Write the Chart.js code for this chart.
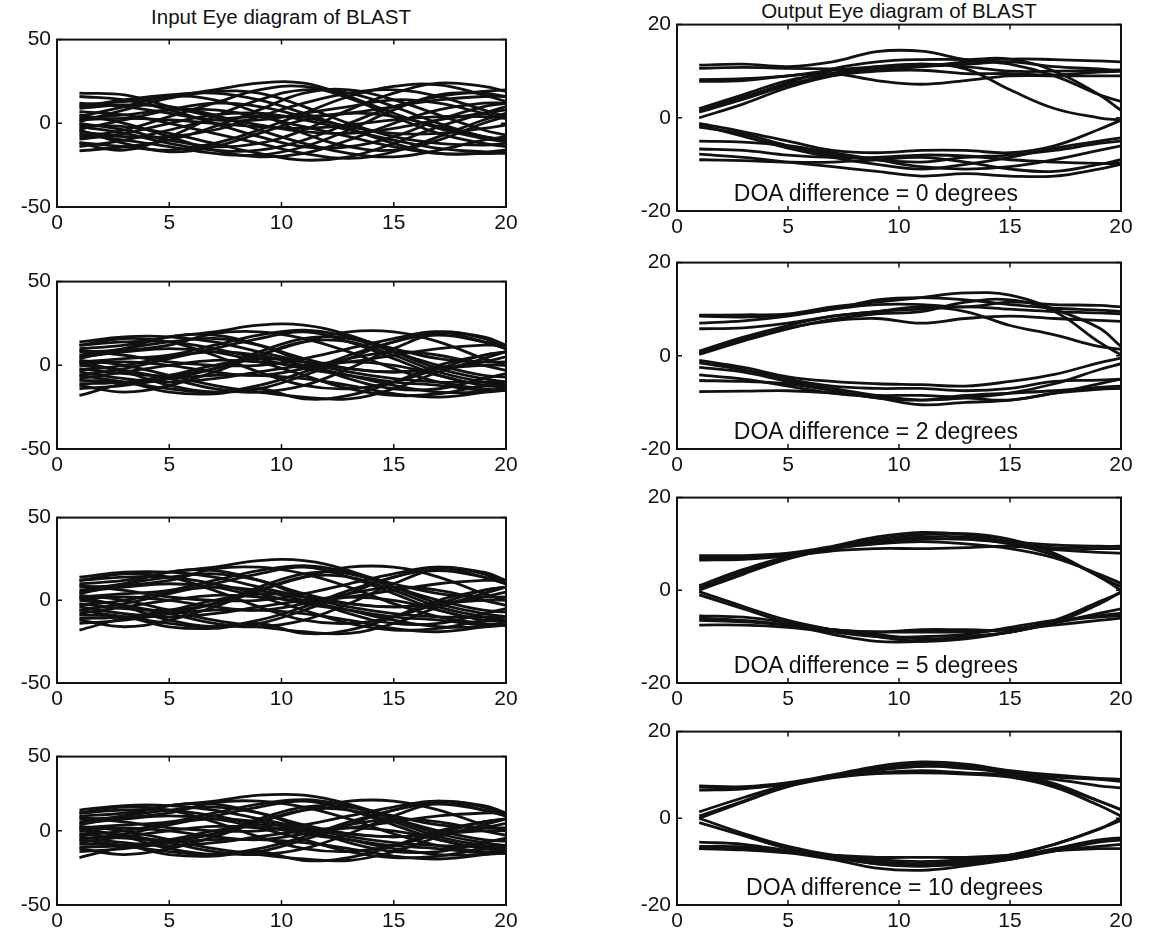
<!DOCTYPE html>
<html>
<head>
<meta charset="utf-8">
<script src="https://cdn.jsdelivr.net/npm/chart.js@4.4.1/dist/chart.umd.min.js"></script>
<style>
  body { margin: 0; background: #fff; width: 1150px; height: 932px; position: relative; overflow: hidden;
         font-family: "Liberation Sans", Arial, Helvetica, sans-serif; color: #111; }
  canvas { position: absolute; }
  .ttl { position: absolute; font-size: 20.5px; white-space: nowrap; transform: translateX(-50%); }
  .doa { position: absolute; font-size: 23px; white-space: nowrap; transform: translate(-50%, -50%); }
</style>
</head>
<body>
<div class="ttl" style="left:281px; top:5px;">Input Eye diagram of BLAST</div>
<div class="ttl" style="left:899px; top:-1px;">Output Eye diagram of BLAST</div>
<script>
// sample positions shared by every trace
const samples = [1, 3, 5, 7, 9, 11, 13, 15, 17, 19, 20];
const xTicks = [0, 5, 10, 15, 20];
const inTicks = [-50, 0, 50];
const outTicks = [-20, 0, 20];
const doaDegrees = [0, 2, 5, 10];

// input eye, first row
const inputEyeA = [
  [18, 17, 10, 4, -1, -5, -6, -3, 2, 6, 8],
  [11, 13, 16, 20, 24, 24, 16, 6, -3, -9, -11],
  [10, 14, 17, 18, 14, 6, -3, -12, -18, -18, -17],
  [7, 5, 0, -6, -12, -18, -21, -17, -8, 2, 6],
  [1, 8, 15, 19, 18, 10, 0, -8, -12, -13, -12],
  [0, -4, -10, -14, -12, -4, 8, 18, 24, 22, 19],
  [-3.5, 2, 8, 12, 10, 4, -2, -6, -6, -3, -1],
  [-6.5, -10, -14, -18, -19, -14, -4, 8, 17, 18, 16],
  [-9.5, -6, 0, 5, 6, 2, -4, -10, -15, -17, -16],
  [-11.5, -14, -16, -12, -4, 6, 16, 22, 23, 17, 13],
  [-16.5, -14, -10, -2, 8, 18, 20, 14, 5, -4, -7],
  [2, 3, 2, 0, -2, -3, -1, 2, 4, 4, 3],
  [-1, -2, -6, -12, -18, -22, -20, -12, -2, 6, 10],
  [5, 0, -8, -16, -20, -18, -10, 0, 8, 12, 12],
  [-5, -8, -8, -4, 4, 12, 18, 20, 16, 8, 4],
  [9, 11, 10, 5, -4, -12, -18, -20, -16, -10, -8],
  [-8, -4, 4, 12, 20, 22, 15, 4, -6, -12, -14],
  [3, 5, 8, 8, 4, -2, -8, -14, -18, -18, -18],
  [-2, -6, -12, -16, -16, -10, 0, 10, 16, 19, 20],
  [12, 10, 6, 2, 2, 6, 10, 14, 12, 6, 3],
  [-12, -16, -8, 4, 14, 20, 18, 10, 0, -8, -10],
  [4, 10, 16, 14, 6, -6, -14, -16, -10, 0, 4],
  [-14, -10, -4, 2, 4, 4, 6, 10, 14, 16, 16],
  [16, 14, 8, 0, -8, -14, -14, -8, 2, 10, 12],
  [-4, -12, -17, -14, -6, 2, 6, 4, -2, -8, -10]
];

// input eye, rows two to four
const inputEyeB = [
  [14, 17, 17, 14, 8, 2, -4, -8, -10, -10, -10],
  [10, 12, 17, 20, 24, 24, 18, 8, -2, -8, -10],
  [8, 9, 12, 19, 20, 16, 8, -2, -10, -14, -15],
  [5, 8, 10, 8, 2, -6, -14, -18, -17, -12, -10],
  [2, 4, 6, 12, 18, 21, 17, 10, 4, 2, 2],
  [0, -3, -8, -14, -16, -12, -2, 10, 19, 17, 12],
  [-3, 0, 5, 8, 6, 0, -6, -12, -16, -16, -15],
  [-6, -10, -14, -16, -12, -4, 6, 14, 20, 16, 10],
  [-9, -10, -16, -17, -14, -20, -18, -10, 0, 6, 8],
  [-11, -10, -6, 0, 4, 2, -2, -4, -2, 2, 5],
  [-18, -11, -8, -6, -6, -8, -12, -17, -19, -16, -13],
  [3, 0, -6, -12, -16, -19, -20, -14, -4, 4, 8],
  [-2, -5, -6, -2, 6, 14, 20, 20, 14, 4, 0],
  [6, 10, 14, 16, 12, 4, -2, -4, -2, 0, 0],
  [-8, -4, 0, 3, 2, 0, 2, 6, 10, 12, 12],
  [1, 2, 0, -4, -6, -2, 4, 8, 6, 0, -3],
  [-4, -8, -10, -8, -4, 0, 2, 0, -6, -12, -13],
  [12, 14, 14, 10, 4, -2, -6, -10, -12, -15, -15],
  [-14, -12, -8, -2, 8, 16, 16, 8, 0, -6, -7],
  [9, 6, 2, 0, 0, 4, 10, 16, 20, 14, 10],
  [12, 16, 14, 6, -4, -12, -14, -10, -2, 6, 8],
  [-12, -16, -12, -4, 6, 14, 14, 6, -4, -10, -12],
  [4, 10, 17, 18, 12, 2, -8, -14, -14, -8, -5],
  [-6, -2, 4, 10, 16, 20, 14, 4, -6, -12, -12],
  [2, -4, -12, -16, -14, -6, 4, 14, 18, 14, 10]
];

// output eyes, one per DOA difference
const outputEye0 = [
  [11.3, 11.5, 11, 12, 14.2, 14.3, 12.5, 11.5, 9, 5, 3.5],
  [10.6, 10.8, 10.6, 10.5, 10.3, 11, 12, 12.6, 12.5, 12.2, 12],
  [8.2, 8.4, 9, 10.2, 11, 11.5, 11, 10, 10, 10.2, 10.3],
  [7.8, 8, 9, 9.5, 8, 7.2, 8, 9, 9, 9, 9],
  [2, 5, 8, 9.5, 10.5, 11.5, 10.5, 6, 2, 0, -0.5],
  [1.2, 4, 7, 9.5, 11, 11, 11.5, 12, 11, 10.5, 10],
  [0, 3, 6.5, 9, 10, 10.2, 9.5, 9.5, 9.2, 9.8, 10],
  [1.5, 4.5, 7.5, 10.5, 12, 12.5, 12.5, 12.6, 10, 5, 1.6],
  [-1.2, -3, -5, -7, -7.5, -7, -7, -7.5, -6, -2.5, -0.5],
  [-2, -3.5, -6, -8, -9, -9.5, -8.5, -8, -7, -5.5, -5],
  [-5, -5.2, -6, -7.5, -9, -10.5, -11, -10.5, -9, -7, -6],
  [-6.7, -7, -8, -8.5, -8.5, -8, -8.2, -9, -9.5, -9.8, -9.8],
  [-7.8, -8.5, -9.5, -10.5, -11.5, -12.5, -12, -12.5, -12.5, -11, -10],
  [-9, -9.2, -9.5, -9.5, -9, -8.5, -9.5, -11, -11.5, -10, -9],
  [-1.5, -4, -6.5, -8.5, -10, -11, -10, -8.5, -6.5, -5, -4.3]
];

const outputEye2 = [
  [8.7, 8.8, 9, 10.5, 11.5, 12.5, 13.5, 13, 10, 6, 2],
  [7, 7.5, 8.5, 10, 11, 11, 10.5, 11.5, 11, 10.8, 10.5],
  [5.8, 6, 7, 8.5, 9.5, 10, 10.5, 10, 9.5, 9.2, 9],
  [0.6, 3.5, 6, 7.5, 8, 7, 8, 8.5, 8, 7.6, 7.4],
  [1, 4, 6.5, 8.5, 9.5, 10.5, 9.5, 6.5, 4.5, 2, 1.4],
  [0.3, 3.2, 5.8, 7.8, 9, 9.5, 11.5, 12, 9.5, 3, 0.2],
  [8.5, 8.3, 8.8, 10, 12, 12.5, 12, 11, 10.2, 9.8, 9.5],
  [-1, -2.5, -4.5, -5.5, -6, -6.2, -6.5, -5.5, -4, -1.5, -0.5],
  [-2.5, -3.5, -5.5, -7, -8.5, -9.5, -9, -8, -6, -3, -1.7],
  [-4.1, -5, -6.5, -8, -9, -10.5, -10, -9.5, -8, -6, -5],
  [-5.3, -5.5, -6, -7.5, -9, -9.5, -8.5, -8, -7.5, -6.8, -6.5],
  [-7.7, -7.6, -7.5, -8, -8.5, -8.5, -9, -9.5, -8, -7.2, -7],
  [-1.5, -3, -5, -6.5, -7, -7, -7.5, -7, -5.5, -5.2, -5]
];

const outputEye5 = [
  [7.5, 7.5, 8, 9.5, 11.5, 12.5, 12, 10.5, 9.8, 9.5, 9.5],
  [7, 7, 7.8, 9.2, 10.5, 11, 11, 10.2, 9.2, 9, 9],
  [6.5, 6.7, 7.5, 9, 10, 10.5, 10, 9, 7, 3.5, 1.5],
  [0.5, 4, 7, 9, 10.5, 11.5, 11.5, 10, 7.5, 3, 0],
  [1, 4.5, 7.2, 8.5, 9, 9, 9.2, 9.5, 8.8, 8.2, 8],
  [0, 3.5, 6.8, 9, 11, 12, 12.2, 11, 8, 3, 0.8],
  [-0.3, -3.5, -6.5, -8.5, -10, -11, -10.5, -9, -7, -3, -0.3],
  [-5.5, -5.8, -7, -8.5, -9, -9, -9, -8.5, -7.5, -6.5, -6],
  [-6, -6.5, -7.5, -9.5, -11, -11, -10, -9, -7, -5, -4],
  [-7.5, -7.5, -8, -9, -10, -10, -9.5, -8, -6.5, -5.8, -5.5],
  [-1, -4, -7, -8.5, -9, -8.5, -8.5, -8.5, -6.5, -2.5, -0.5],
  [-6.5, -6.8, -7.5, -8.5, -9.5, -10.5, -10, -9, -7, -5.5, -5]
];

const outputEye10 = [
  [7.5, 7.3, 8.2, 10, 12, 13, 12.5, 11, 10, 9.2, 9],
  [7.2, 7, 8, 9.8, 11.5, 12.5, 12, 10.5, 8, 4, 2],
  [0.5, 4, 7.5, 9.5, 11, 12, 11.5, 10.5, 9.5, 9, 8.5],
  [1.5, 4.8, 7.8, 9.8, 11.3, 12, 11.8, 10.2, 7.6, 4, 2],
  [6.5, 6.8, 8, 9.5, 10.5, 11, 10.5, 10, 9, 7.5, 7],
  [0, 3.8, 7.3, 9.3, 10.3, 10.5, 10.2, 9.5, 7.2, 3, 0.5],
  [-7, -7.3, -8, -9.5, -11.5, -12, -11, -9.5, -7.5, -6.5, -6],
  [-5.5, -6, -7.5, -9, -10.5, -11, -10, -8.5, -6, -2.5, 0],
  [-1, -4, -7, -9, -10.5, -11, -10.5, -9.5, -7.5, -5.5, -5],
  [0, -3.5, -6.5, -8.5, -9.5, -10, -9.5, -8.5, -6, -2.5, -0.5],
  [-7, -7, -7.8, -8.5, -9, -9, -9, -8.5, -7.5, -7, -7],
  [-6.5, -6.6, -7.5, -9, -10, -10.5, -10, -9, -7, -5, -4.5]
];

// plot boxes (page pixels)
const leftBox = { x: 57, w: 449, tops: [35, 277, 513, 752], hs: [172, 172, 170, 153] };
const rightBox = { x: 677, w: 444, tops: [20, 258, 493, 727], hs: [191, 191, 190, 178] };
const labelPos = [0.448, 0.448, 0.448, 0.49];
const pad = { l: 62, t: 14, r: 22, b: 36 };

// frame + inward tick marks on all four sides
const framePlugin = {
  id: 'frame',
  afterDraw(chart) {
    const { ctx, chartArea: a, scales } = chart;
    ctx.save();
    ctx.strokeStyle = '#111';
    ctx.lineWidth = 2;
    ctx.strokeRect(a.left, a.top, a.right - a.left, a.bottom - a.top);
    ctx.lineWidth = 1.5;
    const tl = 5;
    ctx.beginPath();
    scales.x.ticks.forEach(t => {
      const px = scales.x.getPixelForValue(t.value);
      ctx.moveTo(px, a.bottom); ctx.lineTo(px, a.bottom - tl);
      ctx.moveTo(px, a.top); ctx.lineTo(px, a.top + tl);
    });
    scales.y.ticks.forEach(t => {
      const py = scales.y.getPixelForValue(t.value);
      ctx.moveTo(a.left, py); ctx.lineTo(a.left + tl, py);
      ctx.moveTo(a.right, py); ctx.lineTo(a.right - tl, py);
    });
    ctx.stroke();
    ctx.restore();
  }
};

const tickFont = { family: '"Liberation Sans", Arial, sans-serif', size: 21 };
const fmt = v => String(v);

function panel(box, top, h, curves, yTicks) {
  const cv = document.createElement('canvas');
  cv.width = box.w + pad.l + pad.r;
  cv.height = h + pad.t + pad.b;
  cv.style.left = (box.x - pad.l) + 'px';
  cv.style.top = (top - pad.t) + 'px';
  cv.style.width = cv.width + 'px';
  cv.style.height = cv.height + 'px';
  document.body.appendChild(cv);

  const datasets = curves.map(c => ({
    data: samples.map((x, i) => ({ x, y: c[i] })),
    borderColor: '#111',
    borderWidth: 2.8,
    pointRadius: 0,
    tension: 0.4,
    fill: false
  }));

  new Chart(cv, {
    type: 'line',
    data: { datasets },
    options: {
      responsive: false,
      animation: false,
      devicePixelRatio: 1,
      layout: { padding: { top: pad.t, right: pad.r, left: 0, bottom: 0 } },
      plugins: { legend: { display: false }, tooltip: { enabled: false } },
      scales: {
        x: {
          type: 'linear', min: 0, max: 20,
          afterBuildTicks: s => { s.ticks = xTicks.map(v => ({ value: v })); },
          afterFit: s => { s.height = pad.b; },
          grid: { display: false, drawTicks: false },
          border: { display: false },
          ticks: { font: tickFont, color: '#111', padding: 4, maxRotation: 0, callback: fmt }
        },
        y: {
          type: 'linear', min: yTicks[0], max: yTicks[2],
          afterBuildTicks: s => { s.ticks = yTicks.map(v => ({ value: v })); },
          afterFit: s => { s.width = pad.l; },
          grid: { display: false, drawTicks: false },
          border: { display: false },
          ticks: { font: tickFont, color: '#111', padding: 6, callback: fmt }
        }
      }
    },
    plugins: [framePlugin]
  });
}

const inputRows = [inputEyeA, inputEyeB, inputEyeB, inputEyeB];
const outputRows = [outputEye0, outputEye2, outputEye5, outputEye10];

leftBox.tops.forEach((top, i) => panel(leftBox, top, leftBox.hs[i], inputRows[i], inTicks));
rightBox.tops.forEach((top, i) => {
  const h = rightBox.hs[i];
  panel(rightBox, top, h, outputRows[i], outTicks);
  const lbl = document.createElement('div');
  lbl.className = 'doa';
  lbl.textContent = 'DOA difference = ' + doaDegrees[i] + ' degrees';
  lbl.style.left = (rightBox.x + rightBox.w * labelPos[i]) + 'px';
  lbl.style.top = (top + h - 18) + 'px';
  document.body.appendChild(lbl);
});
</script>
</body>
</html>
